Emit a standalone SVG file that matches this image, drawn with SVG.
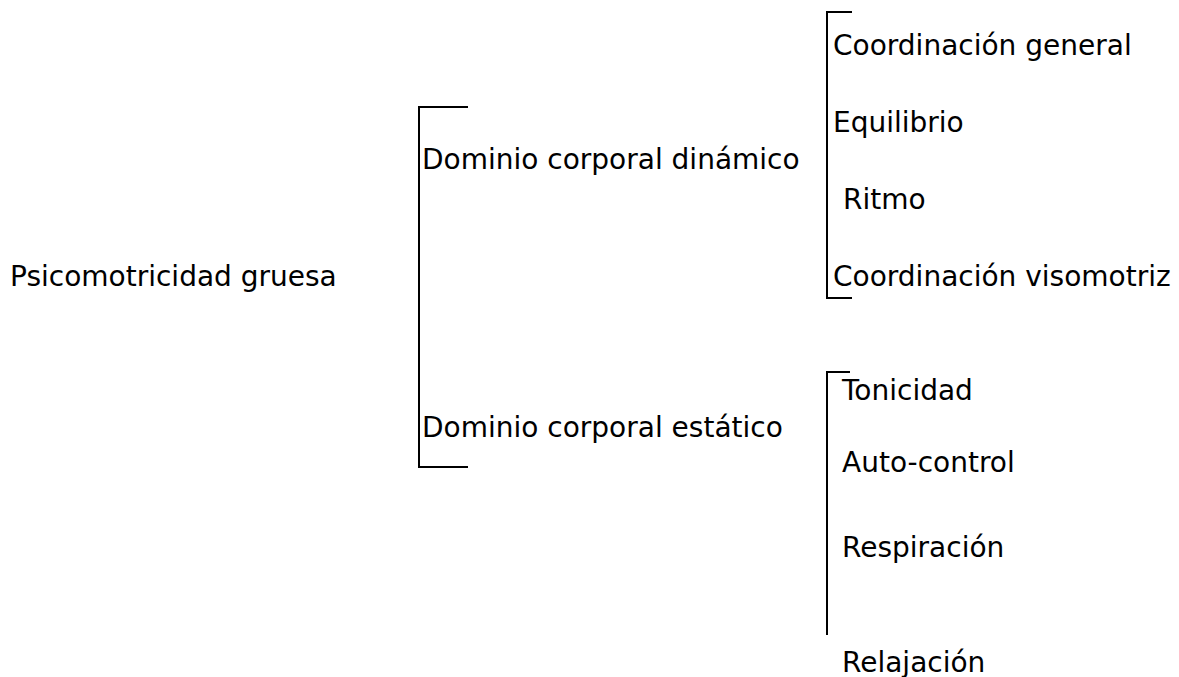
<svg xmlns="http://www.w3.org/2000/svg" width="1179" height="677" viewBox="0 0 1179 677">
<style>
text{font-family:"DejaVu Sans","Liberation Sans",sans-serif;font-size:28px;fill:#000}
.br{fill:none;stroke:#000;stroke-width:2}
</style>
<rect width="1179" height="677" fill="#fff"/>
<g id="connectors">
<path class="br" d="M468,107 H419 V467 H468"/>
<path class="br" d="M852,12 H827 V298 H852"/>
<path class="br" d="M850,372 H827 V635"/>
</g>
<g id="n-root"><text x="10" y="286">Psicomotricidad gruesa</text></g>
<g id="n-dinamico"><text x="422" y="169">Dominio corporal dinámico</text></g>
<g id="n-estatico"><text x="422" y="437">Dominio corporal estático</text></g>
<g id="n-coord-general"><text x="833" y="55">Coordinación general</text></g>
<g id="n-equilibrio"><text x="833" y="132">Equilibrio</text></g>
<g id="n-ritmo"><text x="843" y="209">Ritmo</text></g>
<g id="n-coord-viso"><text x="833" y="286">Coordinación visomotriz</text></g>
<g id="n-tonicidad"><text x="842" y="400">Tonicidad</text></g>
<g id="n-autocontrol"><text x="842" y="472">Auto-control</text></g>
<g id="n-respiracion"><text x="842" y="557">Respiración</text></g>
<g id="n-relajacion"><text x="842" y="672">Relajación</text></g>
</svg>
